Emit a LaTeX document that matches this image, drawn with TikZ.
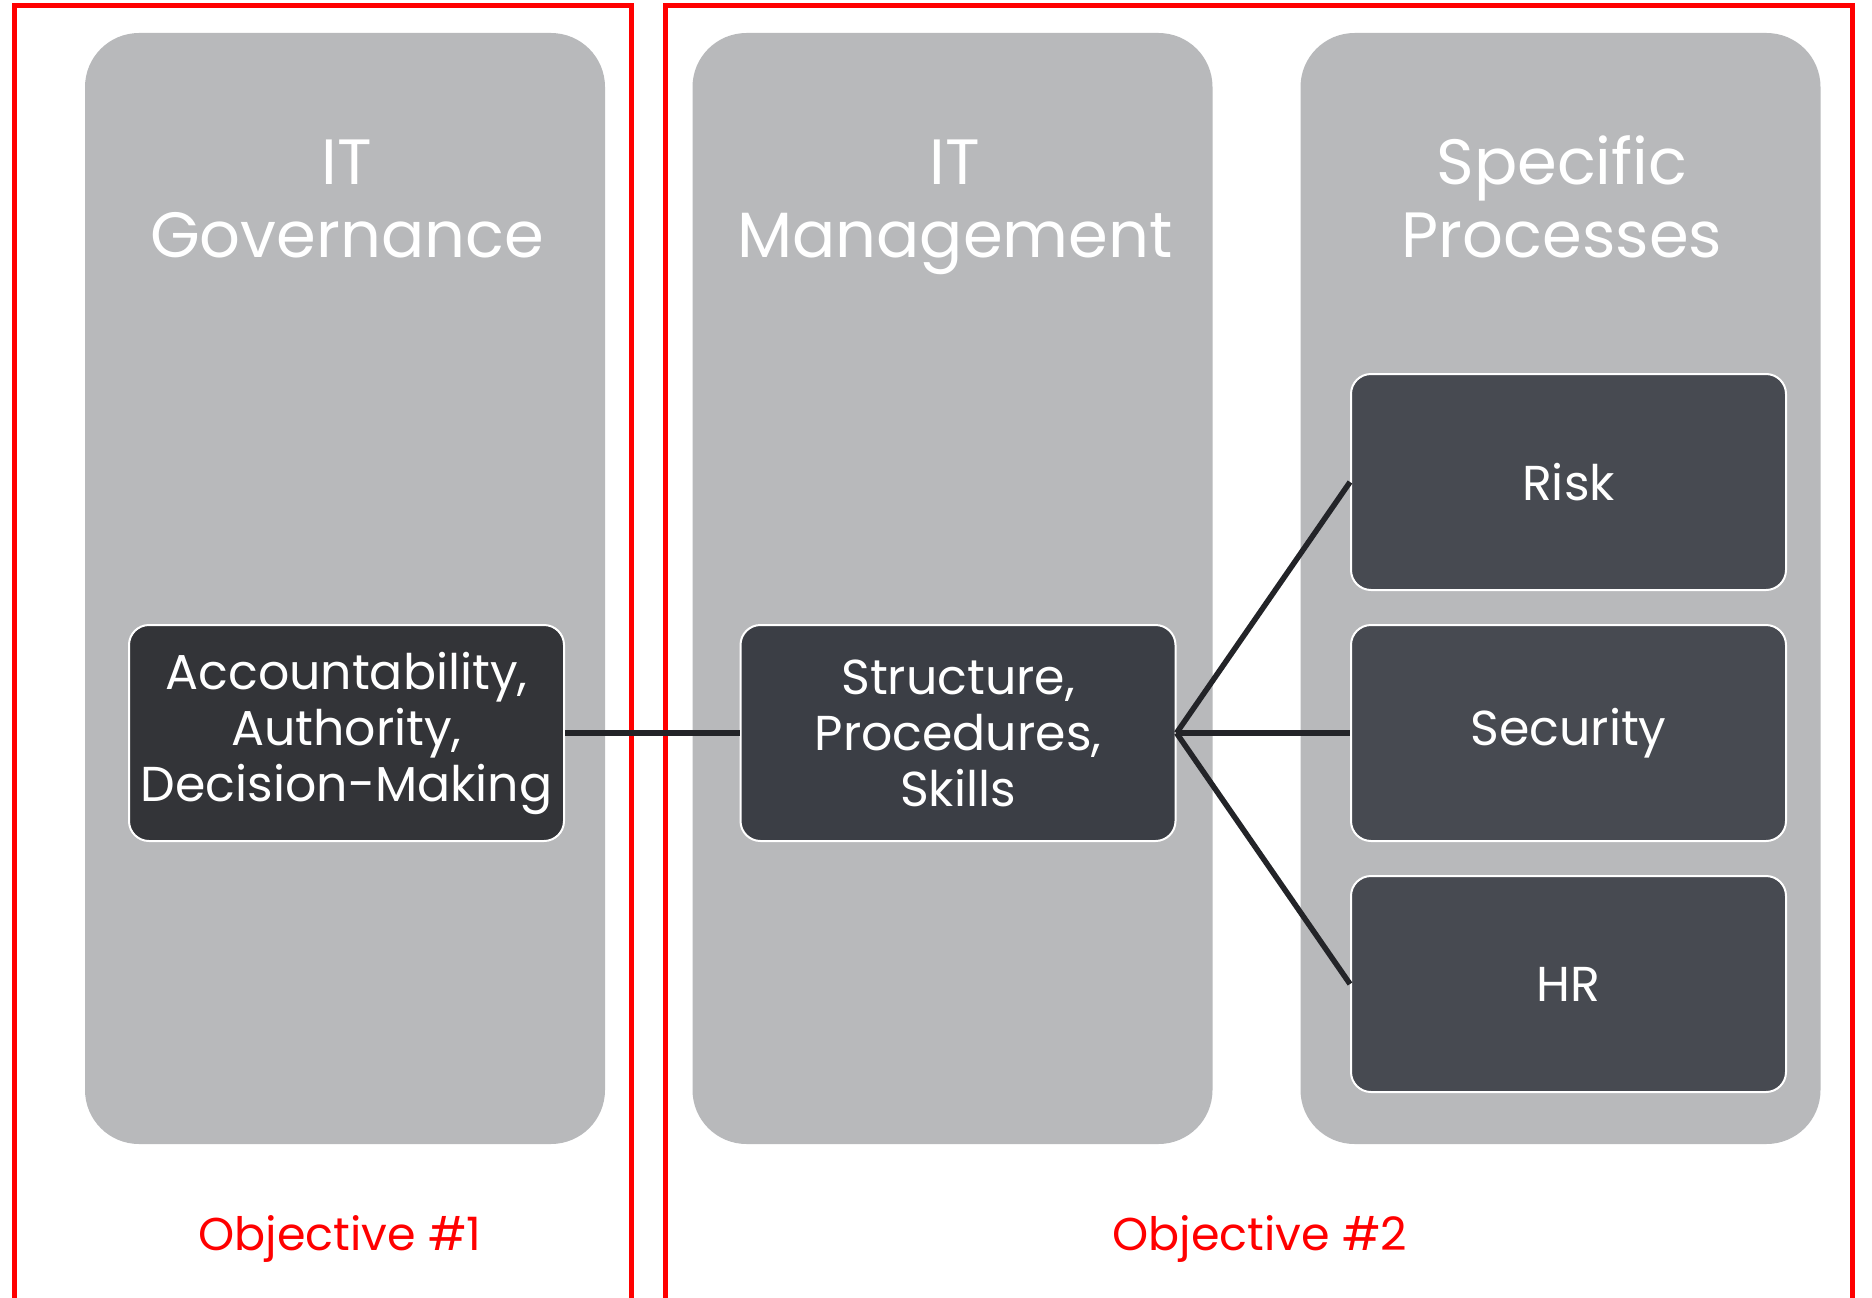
\documentclass[tikz,border=0pt]{standalone}
\usepackage{fontspec}
\setmainfont{Poppins}
\definecolor{colgray}{HTML}{B8B9BB}
\definecolor{accfill}{HTML}{333438}
\definecolor{strfill}{HTML}{3B3E45}
\definecolor{procfill}{HTML}{474A51}
\definecolor{linkcol}{HTML}{232428}
\definecolor{objred}{HTML}{FF0000}
\begin{document}
\begin{tikzpicture}[x=1pt,y=-1pt,
  column/.style={fill=colgray, rounded corners=54pt, minimum width=520pt, minimum height=1111pt, inner sep=0pt},
  titletext/.style={text=white, font=\fontsize{64}{72}\selectfont, anchor=base, inner sep=0pt},
  darkbox/.style={draw=white, line width=2pt, rounded corners=20pt, minimum width=435pt, minimum height=216pt,
    inner sep=0pt, align=center, text=white, font=\fontsize{49}{56}\selectfont},
  link/.style={draw=linkcol, line width=5.5pt},
  frame/.style={draw=objred, line width=5pt},
  objtext/.style={text=objred, font=\fontsize{46}{56}\selectfont, anchor=base, inner sep=0pt}]
\useasboundingbox (0,0) rectangle (1872,1298);
\fill[white] (0,0) rectangle (1872,1298);
% objective frames
\coordinate (f1a) at (14.5,1298);
\coordinate (f1b) at (631.5,5.5);
\coordinate (f1c) at (631.5,1298);
\coordinate (f2a) at (665.5,1298);
\coordinate (f2b) at (1852.5,5.5);
\coordinate (f2c) at (1852.5,1298);
\draw[frame] (f1a) |- (f1b) -- (f1c);
\draw[frame] (f2a) |- (f2b) -- (f2c);
% columns
\node[column] (col1) at (345,588.5) {};
\node[column] (col2) at (952.5,588.5) {};
\node[column] (col3) at (1560.5,588.5) {};
% titles
\node[titletext] (t1a) at (347,184) {IT};
\node[titletext] (t1b) at (347,257) {Governance};
\node[titletext] (t2a) at (955,184) {IT};
\node[titletext] (t2b) at (955,257) {Management};
\node[titletext] (t3a) at (1562,184) {Specific};
\node[titletext] (t3b) at (1562,257) {Processes};
% boxes
\node[darkbox, fill=accfill] (acc) at (346.5,733) {Accountability,\\Authority,\\Decision-Making};
\node[darkbox, fill=strfill] (str) at (958,733) {Structure,\\Procedures,\\Skills};
\node[darkbox, fill=procfill] (risk) at (1568.5,482) {Risk};
\node[darkbox, fill=procfill] (sec) at (1568.5,733) {Security};
\node[darkbox, fill=procfill] (hr) at (1568.5,984) {HR};
% links
\draw[link] (acc.east) -- (str.west);
\draw[link] (str.east) -- (risk.west);
\draw[link] (str.east) -- (sec.west);
\draw[link] (str.east) -- (hr.west);
% objective labels
\node[objtext] (obj1) at (340,1250) {Objective \#1};
\node[objtext] (obj2) at (1260,1250) {Objective \#2};
\end{tikzpicture}
\end{document}
